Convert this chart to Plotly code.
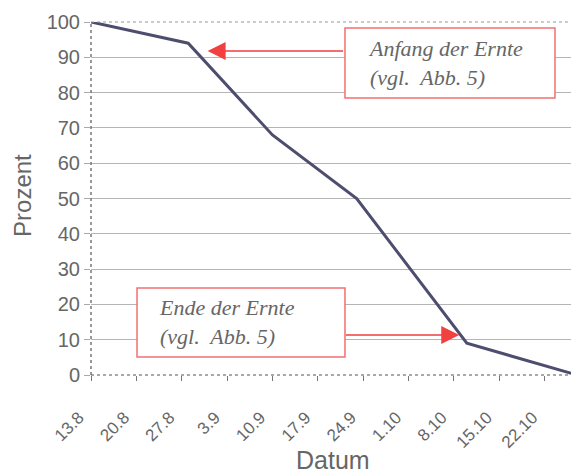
import plotly.graph_objects as go
import pandas as pd

# Data
dates = ["2003-08-13", "2003-08-28", "2003-09-10", "2003-09-23", "2003-10-10", "2003-10-27"]
prozent = [100, 94, 68, 50, 9, 0]

tick_dates = ["2003-08-13", "2003-08-20", "2003-08-27", "2003-09-03", "2003-09-10", "2003-09-17",
              "2003-09-24", "2003-10-01", "2003-10-08", "2003-10-15", "2003-10-22"]
tick_labels = ["13.8", "20.8", "27.8", "3.9", "10.9", "17.9", "24.9", "1.10", "8.10", "15.10", "22.10"]
y_ticks = [0, 10, 20, 30, 40, 50, 60, 70, 80, 90, 100]

x_title = "Datum"
y_title = "Prozent"
label_anfang = "<i>Anfang der Ernte<br>(vgl.  Abb. 5)</i>"
label_ende = "<i>Ende der Ernte<br>(vgl.  Abb. 5)</i>"

x_range = ["2003-08-13", "2003-10-27"]

fig = go.Figure()
fig.add_trace(go.Scatter(
    x=dates, y=prozent, mode="lines",
    line=dict(color="#4d4d6e", width=3),
    showlegend=False, hoverinfo="skip",
))

gray = "#666666"
fig.update_layout(
    width=571, height=465,
    margin=dict(l=83, r=2, t=14, b=98),
    paper_bgcolor="white", plot_bgcolor="white",
    font=dict(family="Liberation Sans, Arial, sans-serif", color=gray, size=17),
    xaxis=dict(
        type="date", range=x_range, automargin=False,
        tickvals=tick_dates, ticktext=tick_labels, tickangle=-45,
        tickfont=dict(size=17, color=gray), ticklabelstandoff=20, ticklabelshift=-12,
        ticks="outside", ticklen=5, tickcolor="#777777",
        showgrid=False, zeroline=False, showline=False,
    ),
    yaxis=dict(
        range=[0, 100], tickvals=y_ticks, automargin=False,
        tickfont=dict(size=20, color=gray),
        ticks="outside", ticklen=6, tickcolor="#aaaaaa",
        showgrid=True, gridcolor="#b5b5b5", gridwidth=1,
        zeroline=False, showline=False,
    ),
)

# axis titles
fig.add_annotation(x=0.498, y=-0.2408, xref="paper", yref="paper", text=x_title,
                   showarrow=False, xanchor="center", yanchor="middle",
                   font=dict(size=25, color=gray))
fig.add_annotation(x=-0.140, y=0.51, xref="paper", yref="paper", text=y_title, textangle=-90,
                   showarrow=False, xanchor="center", yanchor="middle",
                   font=dict(size=24, color=gray))

# frame
fig.add_shape(type="line", xref="paper", yref="paper", x0=0, x1=0, y0=0, y1=1,
              line=dict(color="#555555", width=1.2, dash="dot"))
fig.add_shape(type="line", xref="paper", yref="paper", x0=0, x1=1, y0=0, y1=0,
              line=dict(color="#555555", width=1.2, dash="dot"))
fig.add_shape(type="line", xref="paper", yref="paper", x0=0, x1=1, y0=1, y1=1,
              line=dict(color="#999999", width=1, dash="dot"))
fig.add_shape(type="line", xref="paper", yref="paper", x0=1, x1=1, y0=0, y1=1,
              line=dict(color="#aaaaaa", width=1))

red = "#f04040"
box_border = "#f07070"
text_font = dict(family="Liberation Serif, Times New Roman, serif", size=22, color="#666666")

# Boxes
fig.add_shape(type="rect", xref="paper", yref="paper", x0=0.5226, x1=0.9547, y0=0.7847, y1=0.983,
              line=dict(color=box_border, width=1.5), fillcolor="white", layer="above")
fig.add_shape(type="rect", xref="paper", yref="paper", x0=0.0947, x1=0.5226, y0=0.051, y1=0.2465,
              line=dict(color=box_border, width=1.5), fillcolor="white", layer="above")
fig.add_annotation(x=0.5658, y=0.8839, xref="paper", yref="paper", text=label_anfang,
                   showarrow=False, align="left", xanchor="left", yanchor="middle", font=text_font)
fig.add_annotation(x=0.1358, y=0.150, xref="paper", yref="paper", text=label_ende,
                   showarrow=False, align="left", xanchor="left", yanchor="middle", font=text_font)

# Arrows
fig.add_annotation(x="2003-08-31", y=91.8, xref="x", yref="y", text="",
                   showarrow=True, ax=137, ay=0, axref="pixel", ayref="pixel",
                   arrowhead=2, arrowsize=2.4, arrowwidth=1.5, arrowcolor=red)
fig.add_annotation(x="2003-10-08 20:00", y=11.3, xref="x", yref="y", text="",
                   showarrow=True, ax=-115, ay=0, axref="pixel", ayref="pixel",
                   arrowhead=2, arrowsize=2.4, arrowwidth=1.5, arrowcolor=red)

fig.write_html("out.html")
